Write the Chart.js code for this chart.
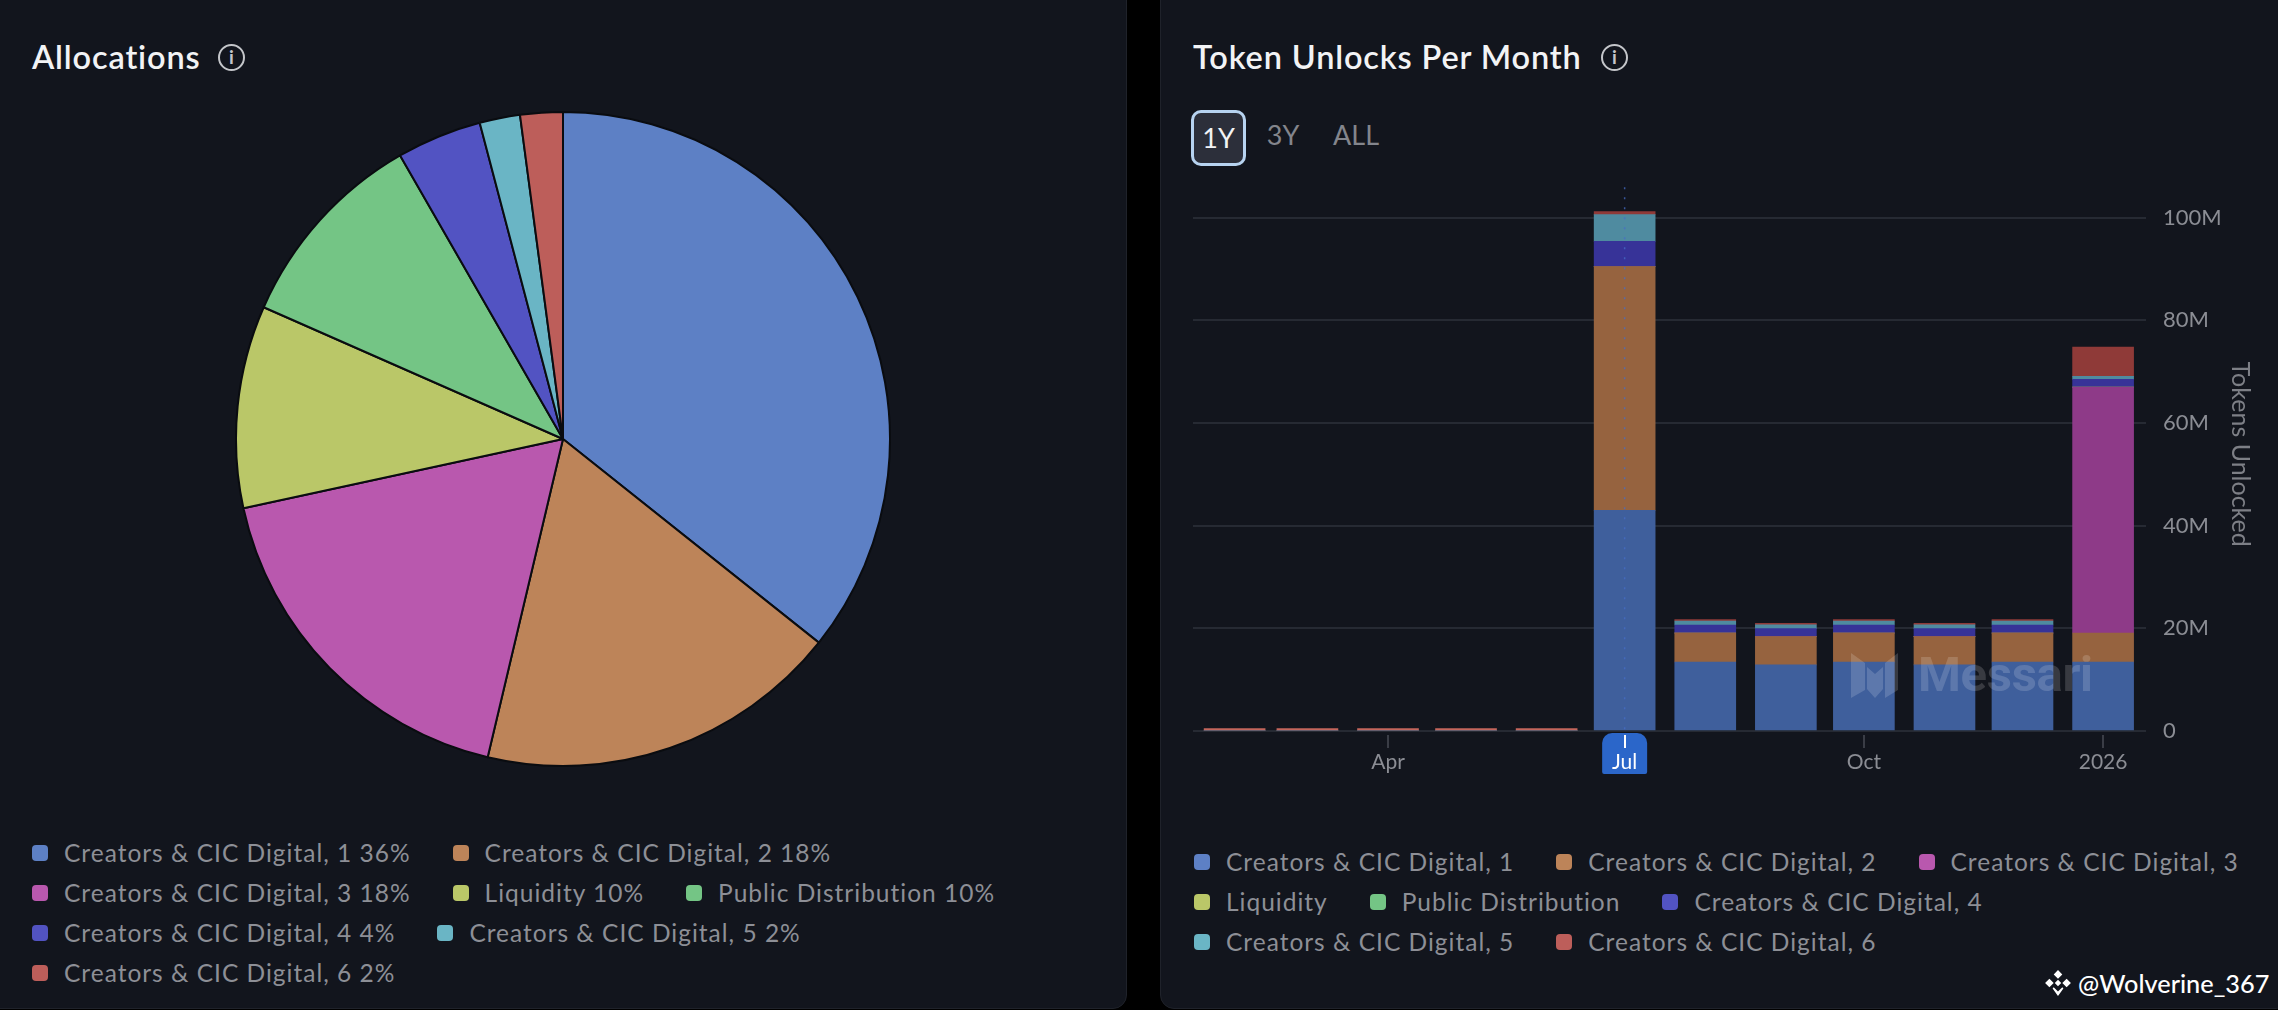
<!DOCTYPE html>
<html>
<head>
<meta charset="utf-8">
<title>Allocations and Token Unlocks</title>
<script src="https://cdn.jsdelivr.net/npm/chart.js@4"></script>
<style>
  html, body { margin: 0; padding: 0; background: #000; }
  body { position: relative; width: 2278px; height: 1010px; overflow: hidden; font-family: Lato, sans-serif; }
  .panel { position: absolute; top: -20px; height: 1029px; background: #12151d; border: 1px solid #1f222a; border-radius: 14px; box-sizing: border-box; }
  h2 { position: absolute; margin: 0; top: 37px; font-size: 32.5px; line-height: 40px; font-weight: 600; color: #f2f3f5; letter-spacing: 0.85px; white-space: nowrap; }
  .info { position: absolute; width: 27px; height: 27px; top: 44px; border: 2.5px solid #c4c6ca; border-radius: 50%; box-sizing: border-box; color: #c4c6ca; font: 700 19px/22px Lato, sans-serif; text-align: center; }
  canvas { position: absolute; }
  .legend { position: absolute; display: flex; flex-wrap: wrap; column-gap: 42px; color: #8d8f96; font-size: 24.5px; letter-spacing: 1px; line-height: 40px; }
  .legend span.item { display: flex; align-items: center; white-space: nowrap; }
  .legend i { width: 16px; height: 16px; border-radius: 4px; margin-right: 16px; }
  .range { position: absolute; top: 110px; height: 56px; line-height: 50px; font-size: 27px; color: #83858c; text-align: center; box-sizing: border-box; }
  .range.on { left: 1191px; width: 55px; border: 3.5px solid #b7d3f0; border-radius: 10px; background: #2c2f3a; color: #f2f3f5; }
  .mark { position: absolute; left: 1851px; top: 653px; pointer-events: none; }
  .mark b { position: absolute; left: 67px; top: -3px; font: 700 49px/50px Roboto, sans-serif; color: rgba(255,255,255,0.16); letter-spacing: -0.3px; }
  .credit { position: absolute; left: 2078px; top: 966px; color: #fff; font-size: 25.3px; line-height: 34px; font-weight: 500; white-space: nowrap; }
</style>
</head>
<body>
<div class="panel" style="left:-14px;width:1141px"></div>
<div class="panel" style="left:1160px;width:1130px"></div>

<h2 style="left:32px">Allocations</h2>
<div class="info" style="left:218px">i</div>
<canvas id="pie" width="656" height="656" style="left:235px;top:111px;width:656px;height:656px"></canvas>
<div class="legend" id="pieLegend" style="left:32px;top:833px;width:1080px"></div>

<h2 style="left:1193px">Token Unlocks Per Month</h2>
<div class="info" style="left:1601px">i</div>
<div class="range on">1Y</div>
<div class="range" style="left:1262px;width:42px">3Y</div>
<div class="range" style="left:1326px;width:60px">ALL</div>
<canvas id="bars" width="1072" height="638" style="left:1193px;top:147px;width:1072px;height:638px"></canvas>
<div class="legend" id="barLegend" style="left:1194px;top:842px;width:1060px"></div>

<div class="mark">
  <svg width="48" height="46" viewBox="0 0 48 46"><path fill="rgba(255,255,255,0.16)" d="M0 0L14 10V37L0 45ZM16 14L24 21L32 14V36L24 45L16 36ZM34 10L47 0V37L34 45Z"/></svg>
  <b>Messari</b>
</div>
<svg style="position:absolute;left:2044px;top:969px" width="28" height="28" viewBox="0 0 26 26"><path fill="#fff" d="M13 1L17 5L13 9L9 5ZM5 9L9 13L5 17L1 13ZM21 9L25 13L21 17L17 13ZM13 10L16 13L13 16L10 13ZM9 17L13 21L17 17L18 18L13 25L8 18Z"/></svg>
<div class="credit">@Wolverine_367</div>

<script>
// both panels share these categories and the legend palette
const categories = ["Creators & CIC Digital, 1", "Creators & CIC Digital, 2", "Creators & CIC Digital, 3", "Liquidity", "Public Distribution", "Creators & CIC Digital, 4", "Creators & CIC Digital, 5", "Creators & CIC Digital, 6"];
const palette = ["#5d80c5", "#bd8459", "#b958ae", "#bac768", "#74c585", "#5253c2", "#6ab5c5", "#bd5e5a"];
const barColors = ["#3f5f9c", "#96633f", "#8e3a88", "#8a9450", "#549362", "#373398", "#4f8ba0", "#8f3a38"];

// slice sizes, the legend shows them rounded
const pieValues = [35.7, 18, 17.9, 10, 10.1, 4.2, 2, 2.1];

// day of year 2025 for the first of each month, Feb 2025 to Jan 2026
const unlockDays = [31, 59, 90, 120, 151, 181, 212, 243, 273, 304, 334, 365];
const creators1 = [0, 0, 0, 0, 0, 43, 13.45, 12.87, 13.45, 12.87, 13.45, 13.45];
const creators2 = [0, 0, 0, 0, 0, 47.5, 5.65, 5.53, 5.65, 5.53, 5.65, 5.65];
const creators3 = [0, 0, 0, 0, 0, 0, 0, 0, 0, 0, 0, 47.9];
const liquidity = [0, 0, 0, 0, 0, 0, 0, 0, 0, 0, 0, 0];
const publicDistribution = [0, 0, 0, 0, 0, 0, 0, 0, 0, 0, 0, 0];
const creators4 = [0, 0, 0, 0, 0, 4.9, 1.56, 1.55, 1.56, 1.55, 1.56, 1.5];
const creators5 = [0, 0, 0, 0, 0, 5.2, 0.78, 0.75, 0.78, 0.75, 0.78, 0.6];
const creators6 = [0.45, 0.45, 0.45, 0.45, 0.45, 0.6, 0.25, 0.3, 0.25, 0.3, 0.25, 5.7];
const seriesValues = [creators1, creators2, creators3, liquidity, publicDistribution, creators4, creators5, creators6];

const xTickDays = [90, 181, 273, 365];
const xTickLabels = ["Apr", "Jul", "Oct", "2026"];
const yTicks = [0, 20, 40, 60, 80, 100];
const selectedDay = 181;

const tickGrey = "#8b8d94";
const gridColor = "#262a33";

function buildLegend(id, withPct) {
  const box = document.getElementById(id);
  categories.forEach((name, i) => {
    const item = document.createElement("span");
    item.className = "item";
    const dot = document.createElement("i");
    dot.style.background = palette[i];
    item.appendChild(dot);
    item.appendChild(document.createTextNode(name + (withPct ? " " + Math.round(pieValues[i]) + "%" : "")));
    box.appendChild(item);
  });
}
buildLegend("pieLegend", true);
buildLegend("barLegend", false);

new Chart(document.getElementById("pie"), {
  type: "pie",
  data: {
    labels: categories,
    datasets: [{
      data: pieValues,
      backgroundColor: palette,
      borderColor: "#0a0c10",
      borderWidth: 2
    }]
  },
  options: {
    responsive: false,
    animation: false,
    plugins: { legend: { display: false }, tooltip: { enabled: false } }
  }
});

// blue tag under the hovered month and the dotted crosshair above it
const selectedMonth = {
  id: "selectedMonth",
  beforeDraw(chart) {
    const { ctx, scales } = chart;
    const x = scales.x.getPixelForValue(selectedDay);
    const y = chart.chartArea.bottom + 2;
    ctx.save();
    ctx.fillStyle = "#2b66c9";
    ctx.beginPath();
    ctx.roundRect(x - 22.5, y, 45, 41, [10, 10, 2, 2]);
    ctx.fill();
    ctx.restore();
  },
  afterDatasetsDraw(chart) {
    const { ctx, scales, chartArea } = chart;
    const x = scales.x.getPixelForValue(selectedDay);
    ctx.save();
    ctx.strokeStyle = "rgba(70,110,200,0.75)";
    ctx.lineWidth = 1.5;
    ctx.setLineDash([2, 8]);
    ctx.beginPath();
    ctx.moveTo(x, chartArea.top + 10);
    ctx.lineTo(x, chartArea.bottom);
    ctx.stroke();
    ctx.restore();
  }
};

new Chart(document.getElementById("bars"), {
  type: "bar",
  data: {
    datasets: seriesValues.map((vals, s) => ({
      label: categories[s],
      stack: "unlocks",
      data: vals.map((v, i) => ({ x: unlockDays[i], y: v })),
      backgroundColor: s === 7
        ? (c => (c.raw && c.raw.y < 0.5 && c.dataIndex < 5 ? "#c4665c" : barColors[s]))
        : barColors[s],
      borderWidth: 0,
      barThickness: 61
    }))
  },
  plugins: [selectedMonth],
  options: {
    responsive: false,
    animation: false,
    layout: { padding: 0 },
    plugins: { legend: { display: false }, tooltip: { enabled: false } },
    scales: {
      x: {
        type: "linear",
        offset: false,
        min: 15,
        max: 381.5,
        afterBuildTicks: s => { s.ticks = xTickDays.map(v => ({ value: v })); },
        afterFit: s => { s.height = 54; },
        border: { display: false },
        grid: {
          offset: false,
          drawOnChartArea: false,
          tickLength: 17,
          tickBorderDash: [0, 4, 13, 4],
          tickColor: c => (c.tick && c.tick.value === selectedDay ? "#ffffff" : "#3a3d46"),
          lineWidth: 2
        },
        ticks: {
          autoSkip: false,
          maxRotation: 0,
          padding: 2,
          color: c => (c.tick && c.tick.value === selectedDay ? "#ffffff" : tickGrey),
          font: { family: "Lato, sans-serif", size: 21 },
          callback: v => xTickLabels[xTickDays.indexOf(v)]
        }
      },
      y: {
        position: "right",
        stacked: true,
        min: 0,
        max: 107.9,
        afterBuildTicks: s => { s.ticks = yTicks.map(v => ({ value: v })); },
        afterFit: s => { s.width = 119; },
        border: { display: false },
        grid: { color: gridColor, lineWidth: 2, drawTicks: false },
        ticks: {
          padding: 17,
          color: tickGrey,
          font: { family: "Lato, sans-serif", size: 22 },
          callback: v => (v === 0 ? "0" : v + "M")
        },
        title: {
          display: true,
          text: "Tokens Unlocked",
          color: "#7d7f86",
          font: { family: "Lato, sans-serif", size: 25 },
          padding: { top: 10, bottom: 0 }
        }
      }
    }
  }
});
</script>
</body>
</html>
